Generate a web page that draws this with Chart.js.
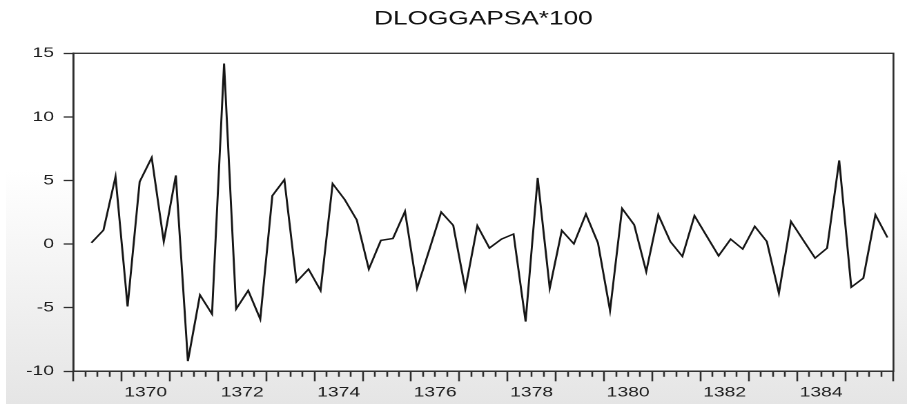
<!DOCTYPE html>
<html><head><meta charset="utf-8">
<script src="https://cdn.jsdelivr.net/npm/chart.js@4/dist/chart.umd.min.js"></script>
<style>
html,body{margin:0;padding:0;background:#fff;width:907px;height:404px;overflow:hidden;}
#bg{position:absolute;left:6px;top:0;width:901px;height:404px;background:linear-gradient(to bottom,#ffffff 0%,#ffffff 42%,#e5e5e5 100%);}
#wrap{position:absolute;left:0;top:0;width:657px;height:404px;transform:scaleX(1.38051);transform-origin:0 0;}
</style></head><body>
<div id="bg"></div>
<div id="wrap"><canvas id="c"></canvas></div>
<script>
const chartTitle = 'DLOGGAPSA*100';
const periods = [
  '1369Q2','1369Q3','1369Q4',
  '1370Q1','1370Q2','1370Q3','1370Q4',
  '1371Q1','1371Q2','1371Q3','1371Q4',
  '1372Q1','1372Q2','1372Q3','1372Q4',
  '1373Q1','1373Q2','1373Q3','1373Q4',
  '1374Q1','1374Q2','1374Q3','1374Q4',
  '1375Q1','1375Q2','1375Q3','1375Q4',
  '1376Q1','1376Q2','1376Q3','1376Q4',
  '1377Q1','1377Q2','1377Q3','1377Q4',
  '1378Q1','1378Q2','1378Q3','1378Q4',
  '1379Q1','1379Q2','1379Q3','1379Q4',
  '1380Q1','1380Q2','1380Q3','1380Q4',
  '1381Q1','1381Q2','1381Q3','1381Q4',
  '1382Q1','1382Q2','1382Q3','1382Q4',
  '1383Q1','1383Q2','1383Q3','1383Q4',
  '1384Q1','1384Q2','1384Q3','1384Q4',
  '1385Q1','1385Q2','1385Q3','1385Q4'
];
const values = [
  0.1, 1.1, 5.3,
  -4.9, 4.9, 6.8, 0.2,
  5.4, -9.2, -4.0, -5.5,
  14.2, -5.1, -3.65, -5.9,
  3.8, 5.06, -2.97, -1.97,
  -3.65, 4.75, 3.5, 1.9,
  -1.97, 0.29, 0.44, 2.57,
  -3.47, -0.5, 2.52, 1.47,
  -3.54, 1.44, -0.31, 0.39,
  0.79, -6.09, 5.2, -3.47,
  1.07, 0.02, 2.36, 0.08,
  -5.23, 2.8, 1.52, -2.16,
  2.31, 0.2, -0.97, 2.23,
  0.65, -0.92, 0.39, -0.39,
  1.39, 0.2, -3.86, 1.78,
  0.34, -1.1, -0.31, 6.58,
  -3.39, -2.68, 2.31, 0.52
];
const yTickValues = [-10, -5, 0, 5, 10, 15];
const xTickLabels = ['1370','1372','1374','1376','1378','1380','1382','1384'];
const xStartYear = 1369, xEndYear = 1386;

function periodToX(p){
  const y = parseInt(p.slice(0,4), 10);
  const q = parseInt(p.slice(5), 10);
  return y + (q - 0.5) / 4;
}
const points = values.map((v, i) => ({x: periodToX(periods[i]), y: v}));
const FONT = "'Liberation Sans', Arial, sans-serif";

const framePlugin = {
  id: 'frame',
  beforeDraw(chart){
    const {ctx, chartArea: a} = chart;
    ctx.save();
    ctx.fillStyle = '#ffffff';
    ctx.fillRect(a.left, a.top, a.right - a.left, a.bottom - a.top);
    ctx.restore();
  },
  afterDraw(chart){
    const {ctx, chartArea: a} = chart;
    ctx.save();
    ctx.strokeStyle = '#2e2e2e';
    ctx.lineWidth = 1.3;
    ctx.strokeRect(a.left, a.top, a.right - a.left, a.bottom - a.top);
    ctx.restore();
  }
};

new Chart(document.getElementById('c'), {
  type: 'line',
  data: {
    datasets: [{
      label: chartTitle,
      data: points,
      borderColor: '#161616',
      borderWidth: 1.45,
      pointRadius: 0,
      tension: 0,
      fill: false
    }]
  },
  options: {
    responsive: true,
    maintainAspectRatio: false,
    animation: false,
    devicePixelRatio: 2,
    layout: {padding: {left: 0, right: 9.8, top: 0, bottom: 0}},
    plugins: {
      legend: {display: false},
      tooltip: {enabled: false},
      title: {
        display: true,
        text: chartTitle,
        fullSize: false,
        color: '#111111',
        font: {family: FONT, size: 19, weight: 'normal'},
        padding: {top: 8, bottom: 22.5}
      }
    },
    scales: {
      x: {
        type: 'linear',
        min: xStartYear,
        max: xEndYear,
        afterBuildTicks(scale){
          const t = [];
          for (let k = 0; k <= (xEndYear - xStartYear) * 4; k++) t.push({value: xStartYear + k / 4});
          scale.ticks = t;
        },
        afterFit(scale){ scale.height = 32.7; },
        border: {display: true, color: '#2e2e2e', width: 1.3},
        grid: {
          drawOnChartArea: false,
          drawTicks: true,
          tickLength: 10,
          tickColor: '#2e2e2e',
          tickWidth: 1.3,
          tickBorderDash: (ctx) => (ctx.tick && Number.isInteger(ctx.tick.value)) ? [] : [5, 40]
        },
        ticks: {
          autoSkip: false,
          maxRotation: 0,
          minRotation: 0,
          padding: 3,
          color: '#1e1e1e',
          font: {family: FONT, size: 14},
          callback: (v) => { const s = String(v - 0.5); return xTickLabels.includes(s) ? s : ''; }
        }
      },
      y: {
        type: 'linear',
        min: -10,
        max: 15,
        afterBuildTicks(scale){ scale.ticks = yTickValues.map(v => ({value: v})); },
        afterFit(scale){ scale.width = 53.1; },
        border: {display: true, color: '#2e2e2e', width: 1.3},
        grid: {drawOnChartArea: false, tickLength: 7, tickColor: '#2e2e2e', tickWidth: 1.3},
        ticks: {
          padding: 7,
          color: '#1e1e1e',
          font: {family: FONT, size: 14},
          callback: (v) => String(v)
        }
      }
    }
  },
  plugins: [framePlugin]
});
</script>
</body></html>
